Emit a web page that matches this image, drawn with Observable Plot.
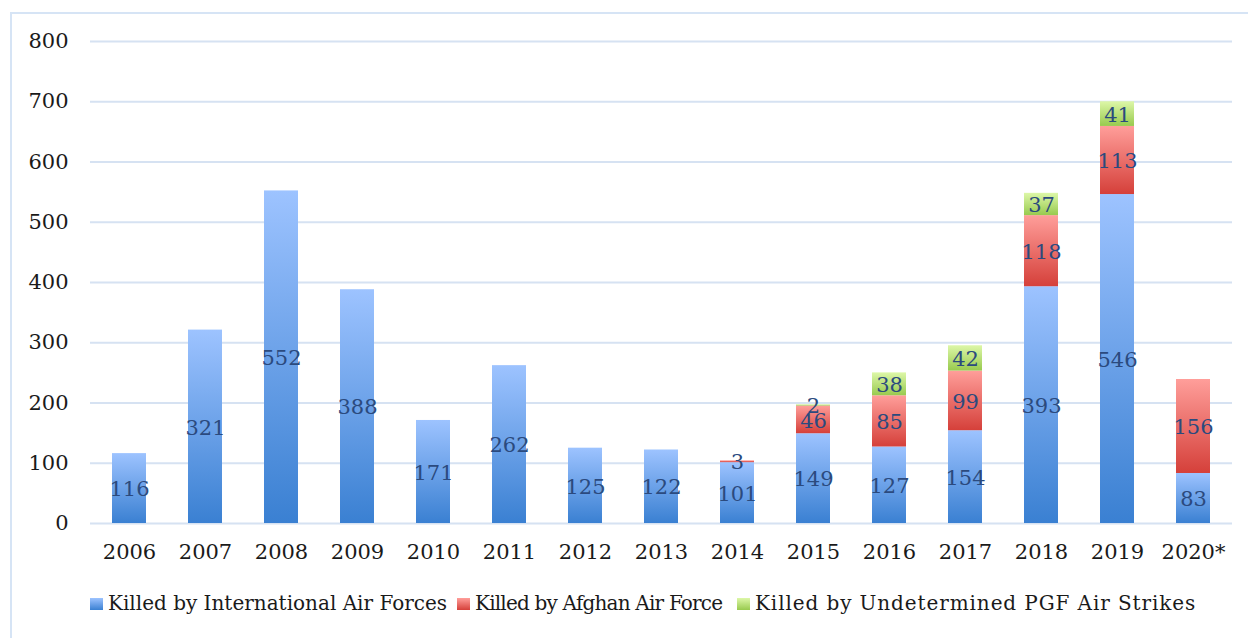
<!DOCTYPE html>
<html>
<head>
<meta charset="utf-8">
<script src="https://cdn.jsdelivr.net/npm/d3@7"></script>
<script src="https://cdn.jsdelivr.net/npm/@observablehq/plot@0.6"></script>
<style>
  html, body { margin: 0; padding: 0; background: #fff; overflow: hidden; width: 1248px; height: 638px; }
  #frame { position: absolute; left: 10px; top: 12px; width: 1260px; height: 660px; border: 2px solid #D6E4F5; box-sizing: border-box; }
  #chart { position: absolute; left: 0; top: 0; }
  #legend { position: absolute; left: 0; top: 591px; font-family: "DejaVu Serif", serif; font-size: 20px; color: #1a1a1a; white-space: nowrap; }
  #legend .item { position: absolute; top: 0; display: flex; align-items: center; }
  #legend .sw { width: 13px; height: 12px; margin-right: 5px; margin-top: 2px; }
</style>
</head>
<body>
<div id="frame"></div>
<div id="chart"></div>
<div id="legend"></div>
<script>
const years = ["2006","2007","2008","2009","2010","2011","2012","2013","2014","2015","2016","2017","2018","2019","2020*"];
const seriesNames = ["Killed by International Air Forces", "Killed by Afghan Air Force", "Killed by Undetermined PGF Air Strikes"];
const international = [116, 321, 552, 388, 171, 262, 125, 122, 101, 149, 127, 154, 393, 546, 83];
const afghan =        [0, 0, 0, 0, 0, 0, 0, 0, 3, 46, 85, 99, 118, 113, 156];
const undetermined =  [0, 0, 0, 0, 0, 0, 0, 0, 0, 2, 38, 42, 37, 41, 0];
const yTicks = [0, 100, 200, 300, 400, 500, 600, 700, 800];

const gradients = [
  {id: "gBlue", top: "#9DC3FF", bottom: "#3A80D2"},
  {id: "gRed", top: "#FF9E9A", bottom: "#D5403A"},
  {id: "gGreen", top: "#DDF7A8", bottom: "#98CA4E"}
];

const rows = [];
[international, afghan, undetermined].forEach((vals, si) => {
  years.forEach((yr, i) => {
    if (vals[i] > 0) rows.push({year: yr, series: seriesNames[si], value: vals[i]});
  });
});

const W = 1248, H = 580;
const plot = Plot.plot({
  width: W,
  height: H,
  marginTop: 41,
  marginBottom: H - 523,
  marginLeft: 90,
  marginRight: 16,
  style: {fontFamily: "'DejaVu Serif', serif", fontSize: "21px", color: "#1a1a1a", background: "transparent"},
  x: {domain: years, paddingInner: 0.55, paddingOuter: 0.28, label: null, tickSize: 0, tickPadding: 21},
  y: {domain: [0, 800], ticks: yTicks, label: null, tickSize: 0, tickPadding: 22},
  color: {domain: seriesNames, range: gradients.map(g => `url(#${g.id})`)},
  marks: [
    Plot.gridY(yTicks, {stroke: "#D6E2F2", strokeOpacity: 1, strokeWidth: 2}),
    Plot.barY(rows, {x: "year", y: "value", fill: "series", z: "series", order: seriesNames, style: "filter: drop-shadow(1.5px 1px 1.5px rgba(0,0,0,0.28))"}),
    Plot.text(rows, Plot.stackY({x: "year", y: "value", z: "series", order: seriesNames, text: d => String(d.value), fill: "#2B4A7E", fontSize: 21, dy: 1}))
  ]
});

const defs = document.createElementNS("http://www.w3.org/2000/svg", "defs");
gradients.forEach(g => {
  const lg = document.createElementNS("http://www.w3.org/2000/svg", "linearGradient");
  lg.setAttribute("id", g.id);
  lg.setAttribute("x1", "0"); lg.setAttribute("y1", "0");
  lg.setAttribute("x2", "0"); lg.setAttribute("y2", "1");
  [[0, g.top], [1, g.bottom]].forEach(([o, c]) => {
    const s = document.createElementNS("http://www.w3.org/2000/svg", "stop");
    s.setAttribute("offset", o);
    s.setAttribute("stop-color", c);
    lg.appendChild(s);
  });
  defs.appendChild(lg);
});
plot.insertBefore(defs, plot.firstChild);
document.getElementById("chart").appendChild(plot);

const legendLeft = [90, 457, 737];
const legendSpacing = ["0px", "-0.8px", "0.9px"];
const legend = document.getElementById("legend");
seriesNames.forEach((name, i) => {
  const item = document.createElement("div");
  item.className = "item";
  item.style.left = legendLeft[i] + "px";
  const sw = document.createElement("div");
  sw.className = "sw";
  sw.style.background = `linear-gradient(${gradients[i].top}, ${gradients[i].bottom})`;
  const t = document.createElement("span");
  t.textContent = name;
  t.style.letterSpacing = legendSpacing[i];
  item.appendChild(sw);
  item.appendChild(t);
  legend.appendChild(item);
});
</script>
</body>
</html>
